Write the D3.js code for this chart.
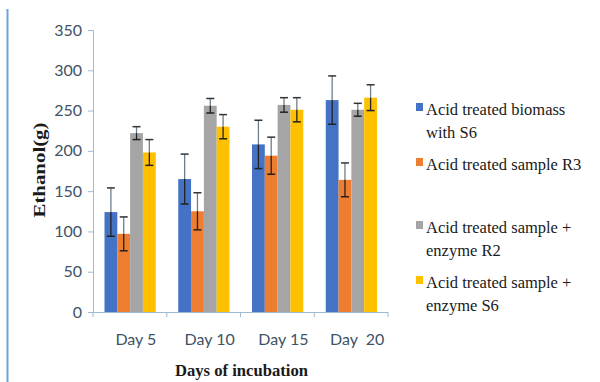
<!DOCTYPE html>
<html>
<head>
<meta charset="utf-8">
<script src="https://cdn.jsdelivr.net/npm/d3@7"></script>
<style>
  body { margin: 0; background: #fff; }
  svg { display: block; }
  .legend-text, .legend-text tspan { font-family: "Liberation Serif", "DejaVu Serif", serif; font-size: 16.5px; }
</style>
</head>
<body>
<svg width="600" height="382"></svg>
<script>
// data
const days = ["Day 5", "Day 10", "Day 15", "Day  20"];
const seriesNames = ["Acid treated biomass with S6", "Acid treated sample R3",
  "Acid treated sample + enzyme R2", "Acid treated sample + enzyme S6"];
const biomassS6 = [124, 165, 208, 263];
const sampleR3 = [97, 125, 194, 164];
const enzymeR2 = [222, 256, 257, 251];
const enzymeS6 = [198, 230, 251, 266];
const errBiomassS6 = [30, 31, 30, 30];
const errSampleR3 = [21, 23, 23, 21];
const errEnzymeR2 = [8, 9, 9, 8];
const errEnzymeS6 = [16, 15, 15, 16];
const yTicks = [0, 50, 100, 150, 200, 250, 300, 350];
const colors = ["#4472C4", "#ED7D31", "#A5A5A5", "#FFC000"];

const values = [biomassS6, sampleR3, enzymeR2, enzymeS6];
const errors = [errBiomassS6, errSampleR3, errEnzymeR2, errEnzymeS6];

const svg = d3.select("svg");
const plotLeft = 93, plotRight = 388, plotTop = 30, plotBottom = 312;

// blue border line at left edge
svg.append("line")
  .attr("x1", 7.5).attr("x2", 7.5).attr("y1", 9).attr("y2", 382)
  .attr("stroke", "#6fa3d8").attr("stroke-width", 2);

const x0 = d3.scaleBand().domain(days).range([plotLeft, plotRight]).padding(0);
const x1 = d3.scaleBand().domain(d3.range(4)).range([11.5, x0.bandwidth() - 11]).padding(0);
const y = d3.scaleLinear().domain([0, 350]).range([plotBottom, plotTop]);

const axisColor = "#9dbad3";
const labelColor = "#3e5366";

// y axis
const yAxis = svg.append("g").attr("transform", `translate(${plotLeft},0)`)
  .call(d3.axisLeft(y).tickValues(yTicks).tickSize(5).tickPadding(6));
yAxis.select(".domain").attr("stroke", axisColor);
yAxis.selectAll(".tick line").attr("stroke", axisColor);
yAxis.selectAll("text").attr("fill", labelColor)
  .style("font-family", "Lato, 'Open Sans', sans-serif").style("font-size", "16px");

// x axis: ticks at band boundaries
const xAxis = svg.append("g").attr("transform", `translate(0,${plotBottom})`);
xAxis.append("line").attr("x1", plotLeft).attr("x2", plotRight).attr("y1", 0.5).attr("y2", 0.5)
  .attr("stroke", axisColor);
xAxis.selectAll(".bt").data(days.concat([null])).join("line")
  .attr("class", "bt")
  .attr("x1", (d, i) => i < days.length ? x0(d) : plotRight)
  .attr("x2", (d, i) => i < days.length ? x0(d) : plotRight)
  .attr("y1", 0).attr("y2", 5).attr("stroke", axisColor);
xAxis.selectAll("text").data(days).join("text")
  .attr("x", d => x0(d) + x0.bandwidth() / 2 + 6)
  .attr("y", 33)
  .attr("text-anchor", "middle")
  .attr("fill", labelColor)
  .style("font-family", "Lato, 'Open Sans', sans-serif").style("font-size", "16px")
  .style("white-space", "pre")
  .text(d => d);

// bars
const groups = svg.append("g").selectAll("g").data(days).join("g")
  .attr("transform", d => `translate(${x0(d)},0)`);

groups.selectAll("rect").data((d, i) => values.map((s, k) => ({ k, v: s[i], e: errors[k][i] })))
  .join("rect")
  .attr("x", d => x1(d.k))
  .attr("width", x1.bandwidth())
  .attr("y", d => y(d.v))
  .attr("height", d => plotBottom - y(d.v))
  .attr("fill", d => colors[d.k]);

// error bars
const eb = groups.selectAll("g.err").data((d, i) => values.map((s, k) => ({ k, v: s[i], e: errors[k][i] })))
  .join("g").attr("class", "err")
  .attr("transform", d => `translate(${x1(d.k) + x1.bandwidth() / 2},0)`);
eb.append("line").attr("y1", d => y(d.v + d.e)).attr("y2", d => y(d.v))
  .attr("stroke", "#6d7f8c").attr("stroke-width", 1.3);
eb.append("line").attr("y1", d => y(d.v)).attr("y2", d => y(d.v - d.e))
  .attr("stroke", "#222").attr("stroke-width", 1.3);
eb.append("line").attr("x1", -4).attr("x2", 4).attr("y1", d => y(d.v + d.e)).attr("y2", d => y(d.v + d.e))
  .attr("stroke", "#333").attr("stroke-width", 1.5);
eb.append("line").attr("x1", -4).attr("x2", 4).attr("y1", d => y(d.v - d.e)).attr("y2", d => y(d.v - d.e))
  .attr("stroke", "#222").attr("stroke-width", 1.5);

// axis titles
svg.append("text")
  .attr("transform", "translate(45,170) rotate(-90)")
  .attr("text-anchor", "middle")
  .attr("textLength", 95).attr("lengthAdjust", "spacingAndGlyphs")
  .attr("fill", "#1a1a1a")
  .style("font-family", "'Liberation Serif', 'DejaVu Serif', serif")
  .style("font-weight", "bold").style("font-size", "17px")
  .text("Ethanol(g)");

svg.append("text")
  .attr("x", 241.5).attr("y", 376)
  .attr("text-anchor", "middle")
  .attr("textLength", 133).attr("lengthAdjust", "spacingAndGlyphs")
  .attr("fill", "#1a1a1a")
  .style("font-family", "'Liberation Serif', 'DejaVu Serif', serif")
  .style("font-weight", "bold").style("font-size", "17px")
  .text("Days of incubation");

// legend
const legendLines = [
  ["Acid treated biomass", "with S6"],
  ["Acid treated sample R3"],
  ["Acid treated sample +", "enzyme R2"],
  ["Acid treated sample +", "enzyme S6"]
];
const legendY = [115, 170, 233, 288];
const legend = svg.append("g").selectAll("g").data(seriesNames).join("g")
  .attr("transform", (d, i) => `translate(416,${legendY[i]})`);
legend.append("rect").attr("x", 0).attr("y", -12).attr("width", 7).attr("height", 8)
  .attr("fill", (d, i) => colors[i]);
legend.append("text")
  .attr("class", "legend-text")
  .attr("fill", "#1a1a1a")
  .selectAll("tspan").data((d, i) => legendLines[i]).join("tspan")
  .attr("x", 10).attr("dy", (d, j) => j === 0 ? 0 : 23)
  .text(d => d);
</script>
</body>
</html>
